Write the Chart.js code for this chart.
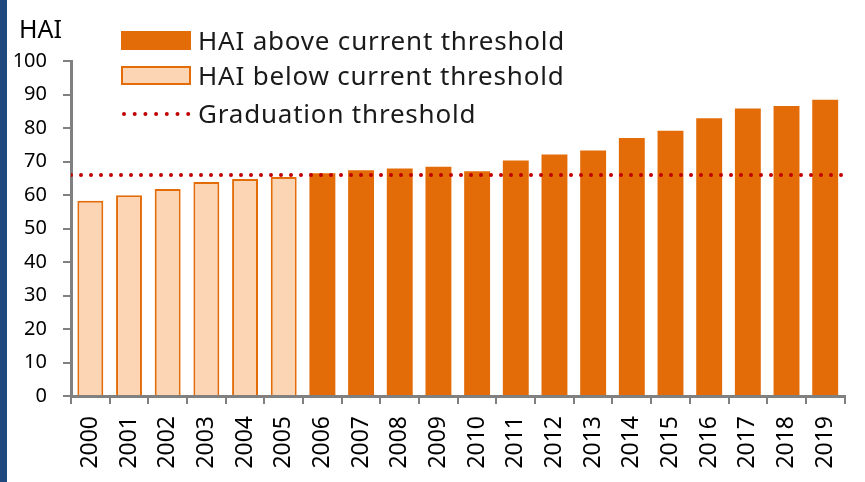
<!DOCTYPE html>
<html>
<head>
<meta charset="utf-8">
<script src="https://cdn.jsdelivr.net/npm/chart.js@4/dist/chart.umd.min.js"></script>
<style>
  html, body { margin: 0; padding: 0; background: #fff; }
  #wrap { position: relative; width: 865px; height: 482px; overflow: hidden; font-family: "Noto Sans", sans-serif; }
  #strip { position: absolute; left: 0; top: 0; width: 7px; height: 482px; background: #1f497d; }
  #chart { position: absolute; left: 0; top: 0; }
  #yTitle { position: absolute; left: 19px; top: 11px; font-size: 25px; color: #000; }
  .legendRow { position: absolute; left: 121px; height: 34px; display: flex; align-items: center; font-size: 26px; letter-spacing: 0.8px; color: #1a1a1a; white-space: nowrap; }
  .legendRow .sym { width: 70px; height: 19px; margin-right: 7px; box-sizing: border-box; flex: none; }
</style>
</head>
<body>
<div id="wrap">
  <div id="strip"></div>
  <canvas id="chart" width="865" height="482"></canvas>
  <div id="yTitle">HAI</div>
  <div id="legend"></div>
</div>
<script>
// categories
const years = ['2000', '2001', '2002', '2003', '2004', '2005', '2006', '2007', '2008', '2009',
               '2010', '2011', '2012', '2013', '2014', '2015', '2016', '2017', '2018', '2019'];

// HAI values split by whether they are above the graduation threshold
const haiBelow = [58.3, 59.9, 61.8, 63.9, 64.8, 65.4, null, null, null, null,
                  null, null, null, null, null, null, null, null, null, null];
const haiAbove = [null, null, null, null, null, null, 66.5, 67.4, 67.9, 68.4,
                  67.1, 70.3, 72.1, 73.3, 77.0, 79.2, 82.9, 85.8, 86.6, 88.4];

const graduationThreshold = 66;

// y axis ticks
const yTicks = [0, 10, 20, 30, 40, 50, 60, 70, 80, 90, 100];

const seriesNames = ['HAI above current threshold', 'HAI below current threshold', 'Graduation threshold'];

const darkOrange = '#e36c09';
const lightOrange = '#fcd5b5';
const thresholdRed = '#c00000';
const axisGray = '#808080';

// legend (html, placed over the plot like the original)
const legendEl = document.getElementById('legend');
const legendTops = [23, 58, 96];
seriesNames.forEach((name, i) => {
    const row = document.createElement('div');
    row.className = 'legendRow';
    row.style.top = legendTops[i] + 'px';
    let sym;
    if (i === 0) {
        sym = `<div class="sym" style="background:${darkOrange}"></div>`;
    } else if (i === 1) {
        sym = `<div class="sym" style="background:${lightOrange};border:2px solid ${darkOrange}"></div>`;
    } else {
        sym = `<svg class="sym" width="70" height="19" style="height:19px"><line x1="3" y1="10" x2="68" y2="10" stroke="${thresholdRed}" stroke-width="4" stroke-linecap="round" stroke-dasharray="0 10.7"/></svg>`;
    }
    row.innerHTML = sym + `<span>${name}</span>`;
    legendEl.appendChild(row);
});

new Chart(document.getElementById('chart').getContext('2d'), {
    data: {
        labels: years,
        datasets: [
            {
                type: 'line',
                label: seriesNames[2],
                data: [{ x: 0, y: graduationThreshold }, { x: 1, y: graduationThreshold }],
                xAxisID: 'x2',
                borderColor: thresholdRed,
                borderWidth: 4,
                borderDash: [0, 10],
                borderCapStyle: 'round',
                pointRadius: 0,
                order: 0
            },
            {
                type: 'bar',
                label: seriesNames[0],
                data: haiAbove,
                backgroundColor: darkOrange,
                borderWidth: 0,
                grouped: false,
                order: 1
            },
            {
                type: 'bar',
                label: seriesNames[1],
                data: haiBelow,
                backgroundColor: lightOrange,
                borderColor: darkOrange,
                borderWidth: 2,
                grouped: false,
                order: 1
            }
        ]
    },
    options: {
        responsive: false,
        animation: false,
        layout: { padding: { top: 61, right: 8, bottom: 0, left: 0 } },
        datasets: { bar: { categoryPercentage: 1, barPercentage: 0.67 } },
        plugins: {
            legend: { display: false },
            tooltip: { enabled: false }
        },
        scales: {
            x: {
                type: 'category',
                offset: true,
                border: { color: axisGray, width: 3 },
                grid: { display: true, offset: true, drawOnChartArea: false, color: axisGray, lineWidth: 2, tickLength: 8 },
                ticks: { minRotation: 90, maxRotation: 90, padding: 12, color: '#000', font: { family: 'Noto Sans', size: 23 } },
                afterFit: (scale) => { scale.height = 86; }
            },
            x2: {
                type: 'linear',
                display: false,
                min: 0,
                max: 1
            },
            y: {
                min: 0,
                max: 100,
                afterBuildTicks: (scale) => { scale.ticks = yTicks.map(v => ({ value: v })); },
                border: { color: axisGray, width: 3 },
                grid: { display: true, drawOnChartArea: false, color: axisGray, lineWidth: 2, tickLength: 8 },
                ticks: { padding: 16, color: '#000', font: { family: 'Noto Sans', size: 20 } },
                afterFit: (scale) => { scale.width = 71; }
            }
        }
    }
});
</script>
</body>
</html>
